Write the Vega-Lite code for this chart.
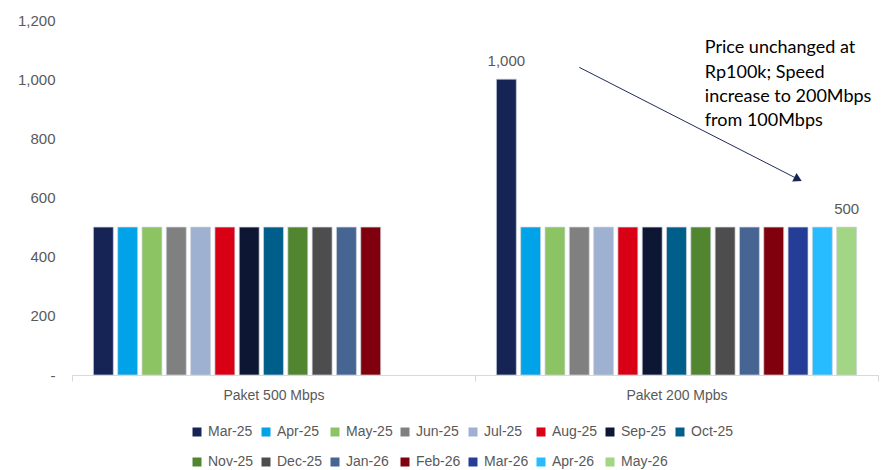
{
  "$schema": "https://vega.github.io/schema/vega-lite/v6.json",
  "width": 806,
  "height": 355,
  "autosize": {"type": "none"},
  "padding": {"left": 72, "top": 20, "right": 12, "bottom": 95},
  "background": "white",
  "config": {
    "view": {"stroke": null},
    "font": "Liberation Sans"
  },
  "datasets": {
    "bars": [
      {"group": "Paket 500 Mbps", "month": "Mar-25", "value": 500},
      {"group": "Paket 500 Mbps", "month": "Apr-25", "value": 500},
      {"group": "Paket 500 Mbps", "month": "May-25", "value": 500},
      {"group": "Paket 500 Mbps", "month": "Jun-25", "value": 500},
      {"group": "Paket 500 Mbps", "month": "Jul-25", "value": 500},
      {"group": "Paket 500 Mbps", "month": "Aug-25", "value": 500},
      {"group": "Paket 500 Mbps", "month": "Sep-25", "value": 500},
      {"group": "Paket 500 Mbps", "month": "Oct-25", "value": 500},
      {"group": "Paket 500 Mbps", "month": "Nov-25", "value": 500},
      {"group": "Paket 500 Mbps", "month": "Dec-25", "value": 500},
      {"group": "Paket 500 Mbps", "month": "Jan-26", "value": 500},
      {"group": "Paket 500 Mbps", "month": "Feb-26", "value": 500},
      {"group": "Paket 200 Mpbs", "month": "Mar-25", "value": 1000, "label": "1,000"},
      {"group": "Paket 200 Mpbs", "month": "Apr-25", "value": 500},
      {"group": "Paket 200 Mpbs", "month": "May-25", "value": 500},
      {"group": "Paket 200 Mpbs", "month": "Jun-25", "value": 500},
      {"group": "Paket 200 Mpbs", "month": "Jul-25", "value": 500},
      {"group": "Paket 200 Mpbs", "month": "Aug-25", "value": 500},
      {"group": "Paket 200 Mpbs", "month": "Sep-25", "value": 500},
      {"group": "Paket 200 Mpbs", "month": "Oct-25", "value": 500},
      {"group": "Paket 200 Mpbs", "month": "Nov-25", "value": 500},
      {"group": "Paket 200 Mpbs", "month": "Dec-25", "value": 500},
      {"group": "Paket 200 Mpbs", "month": "Jan-26", "value": 500},
      {"group": "Paket 200 Mpbs", "month": "Feb-26", "value": 500},
      {"group": "Paket 200 Mpbs", "month": "Mar-26", "value": 500},
      {"group": "Paket 200 Mpbs", "month": "Apr-26", "value": 500},
      {"group": "Paket 200 Mpbs", "month": "May-26", "value": 500, "label": "500"}
    ],
    "note": [
      {"group": "Paket 200 Mpbs", "month": "Nov-25", "value": 1135, "text": "Price unchanged at|Rp100k; Speed|increase to 200Mbps|from 100Mbps"}
    ],
    "arrow": [
      {"group": "Paket 200 Mpbs", "month": "Jun-25", "value": 1040},
      {"group": "Paket 200 Mpbs", "month": "Mar-26", "value": 662}
    ]
  },
  "encoding": {
    "x": {
      "field": "group",
      "type": "nominal",
      "sort": ["Paket 500 Mbps", "Paket 200 Mpbs"],
      "scale": {"domain": ["Paket 500 Mbps", "Paket 200 Mpbs"], "paddingInner": 0, "paddingOuter": 0},
      "axis": {
        "title": null,
        "labelAngle": 0,
        "domainColor": "#d9d9d9",
        "tickColor": "#d9d9d9",
        "tickSize": 6,
        "tickBand": "extent",
        "labelPadding": 7,
        "labelFontSize": 14,
        "labelColor": "#595959",
        "grid": false
      }
    },
    "xOffset": {
      "field": "month",
      "type": "nominal",
      "scale": {
        "domain": ["Mar-25", "Apr-25", "May-25", "Jun-25", "Jul-25", "Aug-25", "Sep-25", "Oct-25", "Nov-25", "Dec-25", "Jan-26", "Feb-26", "Mar-26", "Apr-26", "May-26"],
        "paddingInner": 0.18,
        "paddingOuter": 0.88
      }
    },
    "y": {
      "field": "value",
      "type": "quantitative",
      "scale": {"domain": [0, 1200], "nice": false},
      "axis": {
        "title": null,
        "values": [0, 200, 400, 600, 800, 1000, 1200],
        "labelExpr": "datum.value == 0 ? '-' : format(datum.value, ',')",
        "domain": false,
        "ticks": false,
        "grid": false,
        "labelPadding": 17,
        "labelFontSize": 15,
        "labelColor": "#595959"
      }
    }
  },
  "layer": [
    {
      "data": {"name": "bars"},
      "mark": {"type": "bar", "stroke": "#cfd4de", "strokeWidth": 0.7},
      "encoding": {
        "color": {
          "field": "month",
          "type": "nominal",
          "scale": {
            "domain": ["Mar-25", "Apr-25", "May-25", "Jun-25", "Jul-25", "Aug-25", "Sep-25", "Oct-25", "Nov-25", "Dec-25", "Jan-26", "Feb-26", "Mar-26", "Apr-26", "May-26"],
            "range": ["#162455", "#00a3e8", "#8cc464", "#808080", "#9eb1d0", "#d90015", "#0d1733", "#005f8a", "#518530", "#4d4d4d", "#466592", "#80000d", "#253d96", "#27bcff", "#a2d584"]
          },
          "legend": {
            "title": null,
            "orient": "none",
            "legendX": 118,
            "legendY": 405,
            "direction": "horizontal",
            "columns": 8,
            "symbolType": "square",
            "symbolSize": 81,
            "symbolStrokeWidth": 0,
            "labelFontSize": 14,
            "labelColor": "#595959",
            "labelOffset": 4,
            "columnPadding": 5,
            "rowPadding": 16
          }
        }
      }
    },
    {
      "data": {"name": "bars"},
      "transform": [{"filter": "isValid(datum.label)"}],
      "mark": {"type": "text", "dy": -18, "fontSize": 15, "color": "#595959"},
      "encoding": {"text": {"field": "label", "type": "nominal"}}
    },
    {
      "data": {"name": "note"},
      "mark": {"type": "text", "align": "left", "baseline": "top", "dx": 4, "fontSize": 18, "lineHeight": 24.3, "lineBreak": "|", "font": "Lato", "color": "#000000"},
      "encoding": {"text": {"field": "text", "type": "nominal"}}
    },
    {
      "data": {"name": "arrow"},
      "mark": {"type": "line", "color": "#1f2d5c", "strokeWidth": 1},
      "encoding": {}
    },
    {
      "data": {"name": "arrow"},
      "transform": [{"filter": "datum.month == 'Mar-26'"}],
      "mark": {"type": "point", "shape": "triangle-right", "angle": 27, "size": 90, "filled": true, "color": "#162455", "opacity": 1},
      "encoding": {}
    }
  ]
}
